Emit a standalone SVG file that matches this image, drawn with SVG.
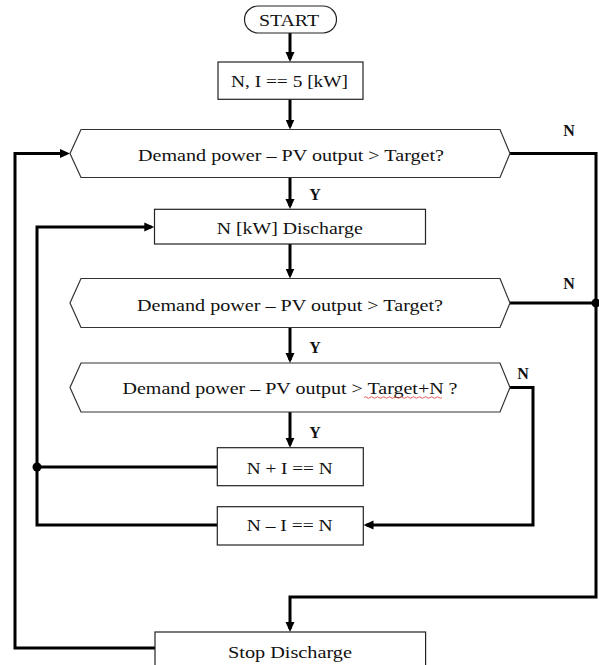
<svg xmlns="http://www.w3.org/2000/svg" width="599" height="665" viewBox="0 0 599 665">
<style>
.shape{fill:#fff;stroke:#222;stroke-width:1.2}
.hex{fill:#fff;stroke:#333;stroke-width:1.2}
.t{font-family:"Liberation Serif","DejaVu Serif",serif;font-size:16px;fill:#111;text-anchor:middle;dominant-baseline:central}
.lbl{font-family:"Liberation Serif","DejaVu Serif",serif;font-size:16px;font-weight:bold;fill:#111;text-anchor:middle;dominant-baseline:central}
.c{fill:none;stroke:#000;stroke-width:3}
.arr{marker-end:url(#ah)}
.dot{fill:#000}
</style>
<defs>
<marker id="ah" markerUnits="userSpaceOnUse" markerWidth="11" markerHeight="10" refX="7" refY="5" orient="auto">
<path d="M0,0.5 L10,5 L0,9.5 z" fill="#000"/>
</marker>
</defs>
<rect width="599" height="665" fill="#fff"/>
<g id="connectors">
<path class="c arr" d="M290,33 V59"/>
<path class="c arr" d="M290,99.3 V126.5"/>
<path class="c arr" d="M290,177.5 V206"/>
<path class="c arr" d="M290,244 V275.5"/>
<path class="c arr" d="M290,327.5 V360"/>
<path class="c arr" d="M290,412 V444.7"/>
<path class="c arr" d="M510,153.5 H596 V597 H290 V629"/>
<path class="c" d="M510,303 H596"/>
<circle class="dot" cx="596" cy="303" r="4.5"/>
<path class="c arr" d="M510,387.5 H533 V525 H366.5"/>
<path class="c" d="M217.3,467 H37"/>
<circle class="dot" cx="37" cy="467" r="4.5"/>
<path class="c arr" d="M217.3,525 H37 V227 H151.3"/>
<path class="c arr" d="M155,648 H15 V153.5 H67"/>
</g>
<g id="start">
<rect class="shape" x="244.5" y="6" width="92" height="27" rx="13.5"/>
<text class="t" x="289" y="20" textLength="60" lengthAdjust="spacingAndGlyphs">START</text>
</g>
<g id="init">
<rect class="shape" x="218" y="62" width="145" height="37.3"/>
<text class="t" x="289.5" y="81.5" textLength="117" lengthAdjust="spacingAndGlyphs">N, I == 5 [kW]</text>
</g>
<g id="decision1">
<polygon class="hex" points="70,153.5 81,129.5 500,129.5 510,153.5 500,177.5 81,177.5"/>
<text class="t" x="291" y="155" textLength="306" lengthAdjust="spacingAndGlyphs">Demand power – PV output &gt; Target?</text>
</g>
<g id="discharge">
<rect class="shape" x="154.5" y="209.3" width="271" height="34.7"/>
<text class="t" x="289.7" y="228" textLength="146" lengthAdjust="spacingAndGlyphs">N [kW] Discharge</text>
</g>
<g id="decision2">
<polygon class="hex" points="70,303 81,278.5 500,278.5 510,303 500,327.5 81,327.5"/>
<text class="t" x="290" y="305" textLength="306" lengthAdjust="spacingAndGlyphs">Demand power – PV output &gt; Target?</text>
</g>
<g id="decision3">
<polygon class="hex" points="70,387.5 81,363 500,363 510,387.5 500,412 81,412"/>
<text class="t" x="290" y="388" textLength="335" lengthAdjust="spacingAndGlyphs">Demand power – PV output &gt; Target+N ?</text>
<path d="M364,397.5 q1.5,-1.5 3,0 t3,0 t3,0 t3,0 t3,0 t3,0 t3,0 t3,0 t3,0 t3,0 t3,0 t3,0 t3,0 t3,0 t3,0 t3,0 t3,0 t3,0 t3,0 t3,0 t3,0 t3,0 t3,0 t3,0 t3,0 t3,0" fill="none" stroke="#d33" stroke-width="0.8"/>
</g>
<g id="increase">
<rect class="shape" x="217.3" y="447.7" width="146" height="38"/>
<text class="t" x="289.7" y="468" textLength="86" lengthAdjust="spacingAndGlyphs">N + I == N</text>
</g>
<g id="decrease">
<rect class="shape" x="217.3" y="506.7" width="146" height="38.3"/>
<text class="t" x="289.7" y="525" textLength="86" lengthAdjust="spacingAndGlyphs">N – I == N</text>
</g>
<g id="stop">
<rect class="shape" x="155" y="632" width="270.6" height="40"/>
<text class="t" x="290" y="652" textLength="124" lengthAdjust="spacingAndGlyphs">Stop Discharge</text>
</g>
<g id="labels">
<text class="lbl" x="569" y="130">N</text>
<text class="lbl" x="315" y="194">Y</text>
<text class="lbl" x="569" y="283">N</text>
<text class="lbl" x="315" y="347">Y</text>
<text class="lbl" x="523" y="373">N</text>
<text class="lbl" x="315" y="432">Y</text>
</g>
</svg>
